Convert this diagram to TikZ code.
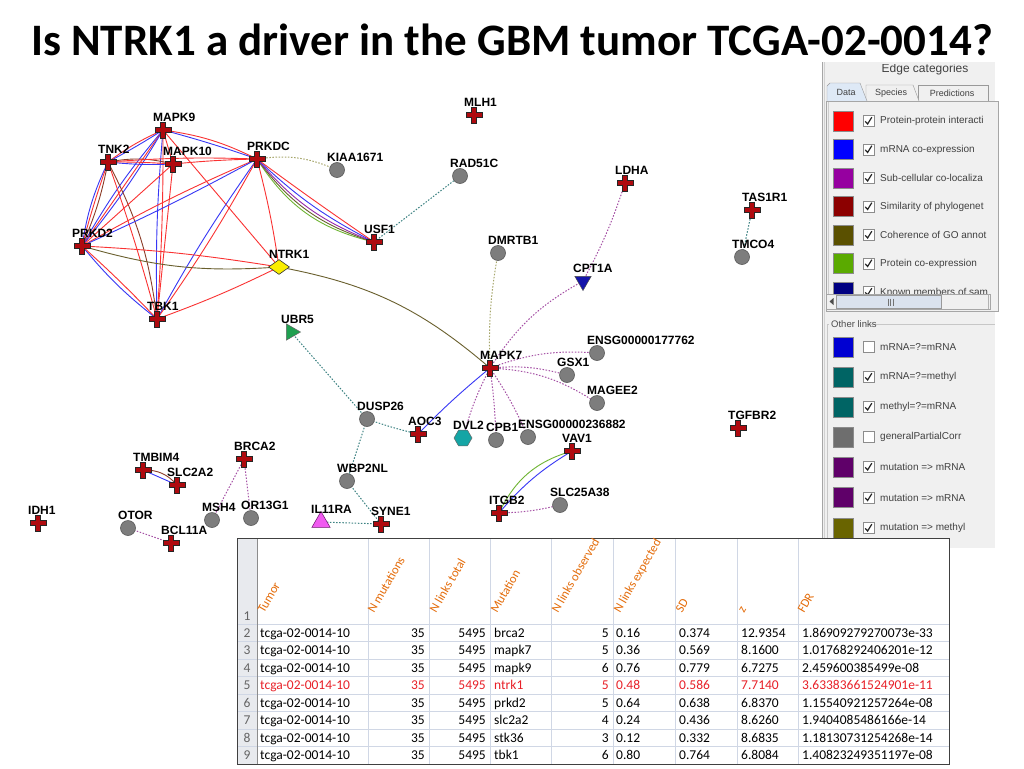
\documentclass[tikz,border=0pt]{standalone}
\usepackage{fontspec}
\setmainfont{Liberation Sans}
\newfontfamily\calfont{Carlito}
\usetikzlibrary{shapes.geometric,calc}
\pgfdeclarelayer{bottom}
\pgfdeclarelayer{background}
\pgfsetlayers{bottom,background,main}
\definecolor{ppi}{RGB}{250,50,50}
\definecolor{mrna}{RGB}{55,55,245}
\definecolor{subc}{RGB}{150,40,170}
\definecolor{goc}{RGB}{105,95,45}
\definecolor{phy}{RGB}{140,60,40}
\definecolor{pco}{RGB}{110,180,50}
\definecolor{dpur}{RGB}{165,80,165}
\definecolor{dteal}{RGB}{60,130,130}
\definecolor{dolive}{RGB}{165,165,105}
\definecolor{crossred}{RGB}{175,10,15}
\definecolor{ngray}{RGB}{125,125,125}
\definecolor{panelbg}{RGB}{240,240,240}
\definecolor{tabblue}{RGB}{222,233,246}
\definecolor{thumbc}{RGB}{218,226,238}
\definecolor{tabred}{RGB}{232,32,40}
\definecolor{hdror}{RGB}{228,108,10}
\definecolor{gridc}{RGB}{208,215,229}
\definecolor{rowhd}{RGB}{232,234,238}
\definecolor{rowtx}{RGB}{100,100,100}
\definecolor{lA}{RGB}{255,0,0}
\definecolor{lB}{RGB}{0,0,255}
\definecolor{lC}{RGB}{150,0,160}
\definecolor{lD}{RGB}{140,0,0}
\definecolor{lE}{RGB}{90,80,0}
\definecolor{lF}{RGB}{90,170,0}
\definecolor{lG}{RGB}{0,0,130}
\definecolor{lH}{RGB}{0,0,210}
\definecolor{lI}{RGB}{0,100,100}
\definecolor{lJ}{RGB}{110,110,110}
\definecolor{lK}{RGB}{95,0,105}
\definecolor{lL}{RGB}{105,100,0}
\newcommand\gn[5]{\node[#1] (#2) at (#3,#4) {}; \node[lab] (#2-l) at (#3-10,#4-9) {#5};}
\begin{document}
\begin{tikzpicture}[x=1pt,y=-1pt,
  ew/.style={line width=0.9pt},
  dot/.style={line width=1pt, dash pattern=on 1.5pt off 1.6pt},
  gene/.style={minimum size=18pt, inner sep=0pt, path picture={
    \draw[fill=crossred, draw=black!85, line width=0.6pt]
      ($(path picture bounding box.center)+(-2.6,-8)$) -- ++(5.2,0) -- ++(0,5.4) -- ++(5.4,0) -- ++(0,5.2) -- ++(-5.4,0) -- ++(0,5.4) -- ++(-5.2,0) -- ++(0,-5.4) -- ++(-5.4,0) -- ++(0,-5.2) -- ++(5.4,0) -- cycle;}},
  circ/.style={circle, minimum size=15pt, inner sep=0pt, fill=ngray, draw=black!65, line width=0.6pt},
  diam/.style={diamond, minimum width=21pt, minimum height=15pt, inner sep=0pt, fill={rgb,255:red,250;green,238;blue,0}, draw=black!80, line width=0.6pt},
  tridown/.style={regular polygon, regular polygon sides=3, shape border rotate=180, minimum size=19pt, inner sep=0pt, fill={rgb,255:red,20;green,20;blue,170}, draw=black!70, line width=0.5pt},
  triright/.style={regular polygon, regular polygon sides=3, shape border rotate=-90, minimum size=19pt, inner sep=0pt, fill={rgb,255:red,30;green,160;blue,80}, draw=black!60, line width=0.5pt},
  triup/.style={regular polygon, regular polygon sides=3, minimum size=21pt, inner sep=0pt, fill={rgb,255:red,240;green,90;blue,240}, draw={rgb,255:red,110;green,20;blue,110}, line width=0.5pt},
  hexa/.style={regular polygon, regular polygon sides=6, minimum size=18pt, inner sep=0pt, fill={rgb,255:red,20;green,165;blue,165}, draw=black!60, line width=0.5pt},
  lab/.style={font=\bfseries\fontsize{12}{13}\selectfont, inner sep=0pt, anchor=base west},
  lsq/.style={minimum size=20pt, inner sep=0pt, draw=black!45, line width=0.4pt},
  chk/.style={minimum size=11pt, inner sep=0pt, draw=black!45, fill=white, line width=0.5pt},
  ltx/.style={font=\fontsize{10}{11}\selectfont, text=black!75, inner sep=0pt, anchor=west},
  tb/.style={font=\calfont\fontsize{13.5}{14}\selectfont, inner sep=0pt},
  hdr/.style={font=\calfont\fontsize{12.5}{13}\selectfont, text=hdror, inner sep=0pt, anchor=base west, rotate=60}
]
\useasboundingbox (0,0) rectangle (1024,768);
\begin{pgfonlayer}{bottom}
\fill[white] (0,0) rectangle (1024,768);
\end{pgfonlayer}

% ---------- legend panel ----------
\fill[panelbg] (822,62) rectangle (995,548);
\draw[black!35] (822.5,62) -- (822.5,548);
\draw[black!18] (824.5,62) -- (824.5,548);
\begin{scope}
  \clip (826,64.5) rectangle (995,82);
  \node[font=\fontsize{12}{13}\selectfont, text=black!75] (ecat) at (925,69.5) {Edge categories};
\end{scope}
\draw[black!40, fill=panelbg] (918,101) -- (918,85) -- (988,85) -- (988,101);
\draw[black!40, fill=panelbg] (866,101) -- (866,85) -- (913,85) -- (919,101);
\draw[black!40, fill=tabblue] (827,101) -- (827,86) -- (830,83) -- (860,83) -- (867,101);
\node[font=\fontsize{9}{10}\selectfont, text=black!75] (tab1) at (846,92) {Data};
\node[font=\fontsize{9}{10}\selectfont, text=black!75] (tab2) at (891,93) {Species};
\node[font=\fontsize{9}{10}\selectfont, text=black!75] (tab3) at (952,93) {Predictions};
\draw[black!35, fill=panelbg] (826,101) rectangle (998,311);
\draw[black!20] (828,102) -- (828,310);
\begin{scope}
  \clip (826,102) rectangle (990,294);
  \foreach \yy/\cc/\tx in {121/lA/Protein-protein interacti, 149.5/lB/mRNA co-expression, 178/lC/Sub-cellular co-localiza, 206.5/lD/Similarity of phylogenet, 235/lE/Coherence of GO annot, 263.5/lF/Protein co-expression, 292/lG/Known members of sam}{
    \node[lsq, fill=\cc] (dsq\yy) at (843,\yy) {};
    \node[chk] (dck\yy) at (868.5,\yy) {};
    \draw[black!85, line width=1.2pt] (865.2,\yy+0.3) -- (867.6,\yy+3) -- (871.8,\yy-3.8);
    \node[ltx] (dtx\yy) at (880,\yy) {\tx};
  }
\end{scope}
% scrollbar
\fill[black!6] (826,294) rectangle (990,309);
\draw[black!35] (826,294) rectangle (990,309);
\fill[black!70] (829.5,301.5) -- (833.5,298) -- (833.5,305) -- cycle;
\draw[black!40, fill=thumbc] (836,295.5) rectangle (941,308.5);
\foreach \gx in {888,890.5,893}{\draw[black!55] (\gx,298.5) -- (\gx,305.5);}
\draw[black!30] (988,294) -- (988,309);
% other links
\draw[black!22] (827,324) -- (829,324);
\draw[black!22] (866,324) -- (995,324);
\draw[black!22] (827,324) -- (827,548);
\node[font=\fontsize{9.5}{11}\selectfont, text=black!70, anchor=west, inner sep=0pt] (olk) at (831,324) {Other links};
\foreach \yy/\cc/\ck/\tx in {347/lH/0/mRNA=?=mRNA, 377/lI/1/mRNA=?=methyl, 407/lI/1/methyl=?=mRNA, 437/lJ/0/generalPartialCorr, 467/lK/1/mutation => mRNA, 497.5/lK/1/mutation => mRNA, 528/lL/1/mutation => methyl}{
  \node[lsq, fill=\cc] (osq\yy) at (843,\yy) {};
  \node[chk] (ock\yy) at (868.5,\yy) {};
  \ifnum\ck=1 \draw[black!85, line width=1.2pt] (865.2,\yy+0.3) -- (867.6,\yy+3) -- (871.8,\yy-3.8); \fi
  \node[ltx] (otx\yy) at (880,\yy) {\tx};
}

% ---------- title ----------
\node[anchor=base west, inner sep=0pt, font=\calfont\bfseries\fontsize{45}{50}\selectfont] (title) at (31,56) {Is NTRK1 a driver in the GBM tumor TCGA-02-0014?};

% ---------- network nodes ----------
\gn{gene}{mapk9}{163}{130}{MAPK9}
\gn{gene}{tnk2}{108}{162}{TNK2}
\gn{gene}{mapk10}{173}{164}{MAPK10}
\gn{gene}{prkdc}{257}{159}{PRKDC}
\gn{circ}{kiaa}{337}{170}{KIAA1671}
\gn{gene}{mlh1}{474}{115}{MLH1}
\gn{circ}{rad51c}{460}{176}{RAD51C}
\gn{gene}{ldha}{625}{183}{LDHA}
\gn{gene}{tas1r1}{752}{210}{TAS1R1}
\gn{circ}{tmco4}{742}{257}{TMCO4}
\gn{gene}{usf1}{374}{242}{USF1}
\gn{circ}{dmrtb1}{498}{253}{DMRTB1}
\gn{tridown}{cpt1a}{583}{281}{CPT1A}
\gn{gene}{prkd2}{82}{246}{PRKD2}
\gn{diam}{ntrk1}{279}{267}{NTRK1}
\gn{gene}{tbk1}{157}{319}{TBK1}
\gn{triright}{ubr5}{291}{332}{UBR5}
\gn{circ}{ensgA}{597}{353}{ENSG00000177762}
\gn{gene}{mapk7}{490}{368}{MAPK7}
\gn{circ}{gsx1}{567}{375}{GSX1}
\gn{circ}{magee2}{597}{403}{MAGEE2}
\gn{circ}{dusp26}{367}{419}{DUSP26}
\gn{gene}{aoc3}{418}{434}{AOC3}
\gn{hexa}{dvl2}{463}{438}{DVL2}
\gn{circ}{cpb1}{496}{440}{CPB1}
\gn{circ}{ensgB}{528}{437}{ENSG00000236882}
\gn{gene}{vav1}{572}{451}{VAV1}
\gn{gene}{tgfbr2}{738}{428}{TGFBR2}
\gn{gene}{tmbim4}{143}{470}{TMBIM4}
\gn{gene}{slc2a2}{177}{485}{SLC2A2}
\gn{gene}{brca2}{244}{459}{BRCA2}
\gn{circ}{wbp2nl}{347}{481}{WBP2NL}
\gn{gene}{idh1}{38}{523}{IDH1}
\gn{circ}{otor}{128}{528}{OTOR}
\gn{circ}{msh4}{212}{520}{MSH4}
\gn{circ}{or13g1}{251}{518}{OR13G1}
\gn{gene}{bcl11a}{171}{543}{BCL11A}
\gn{triup}{il11ra}{321}{522}{IL11RA}
\gn{gene}{syne1}{381}{524}{SYNE1}
\gn{gene}{itgb2}{499}{513}{ITGB2}
\gn{circ}{slc25a38}{560}{505}{SLC25A38}

% ---------- edges ----------
\begin{pgfonlayer}{background}
\draw[ppi,ew] (mapk9.center) to[bend right=6] (tnk2.center);
\draw[mrna,ew] (mapk9.center) to[bend left=2] (tnk2.center);
\draw[ppi,ew] (mapk9.center) -- (mapk10.center);
\draw[ppi,ew] (mapk9.center) to[bend left=9] (prkdc.center);
\draw[mrna,ew] (mapk9.center) to[bend left=2] (prkdc.center);
\draw[mrna,ew] (mapk9.center) to[bend right=5] (prkd2.center);
\draw[ppi,ew] (mapk9.center) -- (prkd2.center);
\draw[mrna,ew] (mapk9.center) to[bend left=4] (prkd2.center);
\draw[mrna,ew] (mapk9.center) to[bend right=3] (tbk1.center);
\draw[ppi,ew] (mapk9.center) to[bend left=2] (tbk1.center);
\draw[ppi,ew] (mapk9.center) -- (ntrk1.center);
\draw[phy,ew] (tnk2.center) to[bend left=12] (mapk10.center);
\draw[mrna,ew] (tnk2.center) to[bend right=4] (mapk10.center);
\draw[ppi,ew] (tnk2.center) to[bend left=2] (mapk10.center);
\draw[ppi,ew] (tnk2.center) to[bend left=3] (prkdc.center);
\draw[mrna,ew] (tnk2.center) to[bend right=8] (prkd2.center);
\draw[ppi,ew] (tnk2.center) to[bend right=2] (prkd2.center);
\draw[phy,ew] (tnk2.center) to[bend left=6] (prkd2.center);
\draw[ppi,ew] (tnk2.center) to[bend left=2] (tbk1.center);
\draw[phy,ew] (tnk2.center) to[bend left=10] (tbk1.center);
\draw[ppi,ew] (mapk10.center) to[bend left=2] (prkdc.center);
\draw[ppi,ew] (mapk10.center) -- (tbk1.center);
\draw[ppi,ew] (mapk10.center) -- (prkd2.center);
\draw[ppi,ew] (prkdc.center) to[bend right=3] (prkd2.center);
\draw[mrna,ew] (prkdc.center) to[bend left=2] (prkd2.center);
\draw[mrna,ew] (prkdc.center) to[bend right=3] (tbk1.center);
\draw[ppi,ew] (prkdc.center) to[bend left=3] (tbk1.center);
\draw[ppi,ew] (prkdc.center) to[bend left=3] (ntrk1.center);
\draw[pco,ew] (prkdc.center) to[bend right=22] (usf1.center);
\draw[goc,ew] (prkdc.center) to[bend right=18] (usf1.center);
\draw[subc,ew] (prkdc.center) to[bend right=14] (usf1.center);
\draw[mrna,ew] (prkdc.center) to[bend right=8] (usf1.center);
\draw[ppi,ew] (prkdc.center) to[bend right=1] (usf1.center);
\draw[dolive,dot] (prkdc.center) to[bend left=16] (kiaa.center);
\draw[mrna,ew] (prkd2.center) to[bend right=6] (tbk1.center);
\draw[ppi,ew] (prkd2.center) to[bend left=2] (tbk1.center);
\draw[ppi,ew] (prkd2.center) to[bend left=3] (ntrk1.center);
\draw[goc,ew] (prkd2.center) to[bend right=10] (ntrk1.center);
\draw[ppi,ew] (tbk1.center) to[bend right=3] (ntrk1.center);
\draw[goc,ew] (ntrk1.center) to[bend left=15] (mapk7.center);
\draw[mrna,ew] (mapk7.center) to[bend right=3] (aoc3.center);
\draw[dpur,dot] (mapk7.center) to[bend left=14] (cpt1a.center);
\draw[dpur,dot] (ldha.center) to[bend left=5] (cpt1a.center);
\draw[dolive,dot] (mapk7.center) to[bend left=6] (dmrtb1.center);
\draw[dpur,dot] (mapk7.center) to[bend left=12] (ensgA.center);
\draw[dpur,dot] (mapk7.center) to[bend left=10] (gsx1.center);
\draw[dpur,dot] (mapk7.center) to[bend left=15] (magee2.center);
\draw[dpur,dot] (mapk7.center) to[bend left=5] (ensgB.center);
\draw[dpur,dot] (mapk7.center) to[bend left=3] (cpb1.center);
\draw[dpur,dot] (mapk7.center) to[bend right=6] (dvl2.center);
\draw[dteal,dot] (usf1.center) -- (rad51c.center);
\draw[dteal,dot] (tas1r1.center) -- (tmco4.center);
\draw[dteal,dot] (ubr5.center) -- (dusp26.center);
\draw[dteal,dot] (dusp26.center) to[bend right=3] (aoc3.center);
\draw[dteal,dot] (dusp26.center) -- (wbp2nl.center);
\draw[dteal,dot] (wbp2nl.center) -- (syne1.center);
\draw[dteal,dot] (syne1.center) -- (il11ra.center);
\draw[pco,ew] (vav1.center) to[bend right=24] (itgb2.center);
\draw[mrna,ew] (vav1.center) to[bend right=9] (itgb2.center);
\draw[dpur,dot] (itgb2.center) to[bend right=6] (slc25a38.center);
\draw[phy,ew] (tmbim4.center) to[bend left=25] (slc2a2.center);
\draw[mrna,ew] (tmbim4.center) -- (slc2a2.center);
\draw[dpur,dot] (brca2.center) -- (msh4.center);
\draw[dpur,dot] (brca2.center) -- (or13g1.center);
\draw[dpur,dot] (otor.center) -- (bcl11a.center);
\end{pgfonlayer}

% ---------- table ----------
\fill[white] (237,538) rectangle (949,764);
\fill[rowhd] (237,538) rectangle (257,764);
\foreach \yy in {624,641.5,659,676.5,694,711.5,729,746.5}{\draw[gridc] (237,\yy) -- (949,\yy);}
\foreach \xx in {368,429,490,551,613,675,737,798}{\draw[gridc] (\xx,538) -- (\xx,764);}
\draw[black!45] (257,538) -- (257,764);
\draw[black!75, line width=1pt] (237,538) rectangle (949,764);
\node[tb, anchor=base, text=rowtx] (rn1) at (247,620) {1};
\node[hdr] (h1) at (264,614) {Tumor};
\node[hdr] (h2) at (374,614) {N mutations};
\node[hdr] (h3) at (436,614) {N links total};
\node[hdr] (h4) at (497,614) {Mutation};
\node[hdr] (h5) at (558,614) {N links observed};
\node[hdr] (h6) at (620,614) {N links expected};
\node[hdr] (h7) at (682,614) {SD};
\node[hdr] (h8) at (744,614) {z};
\node[hdr] (h9) at (804,614) {FDR};
\foreach \r/\m/\o/\ex/\sd/\zz/\fdr/\cc in {
  2/brca2/5/0.16/0.374/12.9354/1.86909279270073e-33/black,
  3/mapk7/5/0.36/0.569/8.1600/1.01768292406201e-12/black,
  4/mapk9/6/0.76/0.779/6.7275/2.459600385499e-08/black,
  5/ntrk1/5/0.48/0.586/7.7140/3.63383661524901e-11/tabred,
  6/prkd2/5/0.64/0.638/6.8370/1.15540921257264e-08/black,
  7/slc2a2/4/0.24/0.436/8.6260/1.9404085486166e-14/black,
  8/stk36/3/0.12/0.332/8.6835/1.18130731254268e-14/black,
  9/tbk1/6/0.80/0.764/6.8084/1.40823249351197e-08/black}{
  \pgfmathsetmacro\yb{624+(\r-2)*17.5+13}
  \node[tb, anchor=base, text=rowtx] (rn\r) at (247,\yb) {\r};
  \node[tb, anchor=base west, text=\cc] (tu\r) at (260,\yb) {tcga-02-0014-10};
  \node[tb, anchor=base east, text=\cc] (nm\r) at (425,\yb) {35};
  \node[tb, anchor=base east, text=\cc] (nl\r) at (486,\yb) {5495};
  \node[tb, anchor=base west, text=\cc] (mu\r) at (494,\yb) {\m};
  \node[tb, anchor=base east, text=\cc] (ob\r) at (609,\yb) {\o};
  \node[tb, anchor=base west, text=\cc] (ex\r) at (616,\yb) {\ex};
  \node[tb, anchor=base west, text=\cc] (sd\r) at (679,\yb) {\sd};
  \node[tb, anchor=base west, text=\cc] (zv\r) at (741,\yb) {\zz};
  \node[tb, anchor=base west, text=\cc] (fd\r) at (802,\yb) {\fdr};
}
\end{tikzpicture}
\end{document}
